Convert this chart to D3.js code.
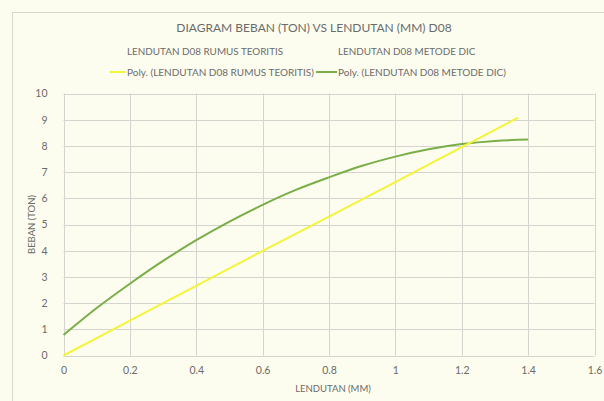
<!DOCTYPE html>
<html><head><meta charset="utf-8">
<script src="https://cdn.jsdelivr.net/npm/d3@7"></script>
<style>
html,body{margin:0;padding:0;background:#fdfdef;}
svg{display:block;}
text{font-family:Lato,"Open Sans",sans-serif;fill:#6b6b6b;}
</style></head><body>
<script>
// Data
const title = "DIAGRAM BEBAN (TON) VS LENDUTAN (MM) D08";
const xTitle = "LENDUTAN (MM)";
const yTitle = "BEBAN (TON)";
const seriesNames = ["LENDUTAN D08 RUMUS TEORITIS", "LENDUTAN D08 METODE DIC"];
const trendNames = ["Poly. (LENDUTAN D08 RUMUS TEORITIS)", "Poly. (LENDUTAN D08 METODE DIC)"];
const xTicks = [0, 0.2, 0.4, 0.6, 0.8, 1, 1.2, 1.4, 1.6];
const yTicks = [0,1,2,3,4,5,6,7,8,9,10];

const teoritisX = [0, 0.2, 0.4, 0.6, 0.8, 1.0, 1.2, 1.37];
const teoritisY = [0, 1.33, 2.66, 3.99, 5.30, 6.62, 7.95, 9.08];

const dicX = [0, 0.1, 0.2, 0.3, 0.4, 0.5, 0.6, 0.7, 0.8, 0.9, 1.0, 1.1, 1.2, 1.3, 1.4];
const dicY = [0.78, 1.81, 2.74, 3.61, 4.40, 5.11, 5.75, 6.32, 6.80, 7.24, 7.59, 7.87, 8.07, 8.19, 8.24];

const colors = ["#f4f43a", "#79ae48"];

const W = 604, H = 401;
const svg = d3.select("body").append("svg").attr("width", W).attr("height", H);

// chart border
svg.append("rect").attr("x", 12.5).attr("y", 12.5).attr("width", W).attr("height", H)
  .attr("fill", "#fdfdef").attr("stroke", "#d6d6cf").attr("stroke-width", 1);

const x = d3.scaleLinear().domain([0, 1.6]).range([63.5, 594.5]);
const y = d3.scaleLinear().domain([0, 10]).range([355.5, 93.5]);

// gridlines
svg.append("g").selectAll("line.h").data(yTicks).join("line")
  .attr("x1", x(0)).attr("x2", x(1.6)).attr("y1", d => Math.round(y(d)) + 0.5).attr("y2", d => Math.round(y(d)) + 0.5)
  .attr("stroke", "#d5d5cf").attr("stroke-width", 1);
svg.append("g").selectAll("line.v").data(xTicks).join("line")
  .attr("y1", y(0)).attr("y2", y(10)).attr("x1", d => Math.round(x(d)) + 0.5).attr("x2", d => Math.round(x(d)) + 0.5)
  .attr("stroke", "#d5d5cf").attr("stroke-width", 1);

// axes labels using d3 axes
const xAxis = svg.append("g").attr("transform", `translate(0,${y(0)})`)
  .call(d3.axisBottom(x).tickValues(xTicks).tickSize(0).tickPadding(11).tickFormat(d => d3.format("~g")(d)));
const yAxis = svg.append("g").attr("transform", `translate(${x(0)},0)`)
  .call(d3.axisLeft(y).tickValues(yTicks).tickSize(0).tickPadding(16));
[xAxis, yAxis].forEach(a => {
  a.select(".domain").remove();
  a.selectAll("text").style("font-family", "Lato, 'Open Sans', sans-serif").style("font-size", "10.5px").attr("fill", "#6e6e6e");
});

// lines
const line = d3.line().x(d => x(d[0])).y(d => y(d[1])).curve(d3.curveCatmullRom);
const tData = teoritisX.map((v, i) => [v, teoritisY[i]]);
const dData = dicX.map((v, i) => [v, dicY[i]]);
svg.append("path").datum(dData).attr("d", line).attr("fill", "none").attr("stroke", colors[1]).attr("stroke-width", 2);
svg.append("path").datum(tData).attr("d", line).attr("fill", "none").attr("stroke", colors[0]).attr("stroke-width", 2);

// title
svg.append("text").attr("x", 314).attr("y", 32).attr("text-anchor", "middle")
  .style("font-size", "12px").text(title);

// legend row 1
svg.append("text").attr("x", 127).attr("y", 55).style("font-size", "9.9px").text(seriesNames[0]);
svg.append("text").attr("x", 338).attr("y", 55).style("font-size", "9.9px").text(seriesNames[1]);
// legend row 2
svg.append("line").attr("x1", 110).attr("x2", 126).attr("y1", 72).attr("y2", 72).attr("stroke", colors[0]).attr("stroke-width", 2);
svg.append("text").attr("x", 127).attr("y", 75.5).style("font-size", "10px").text(trendNames[0]);
svg.append("line").attr("x1", 316).attr("x2", 337).attr("y1", 72).attr("y2", 72).attr("stroke", colors[1]).attr("stroke-width", 2);
svg.append("text").attr("x", 338).attr("y", 75.5).style("font-size", "10px").text(trendNames[1]);

// axis titles
svg.append("text").attr("x", 333).attr("y", 392).attr("text-anchor", "middle").style("font-size", "9.5px").text(xTitle);
svg.append("text").attr("transform", `translate(35,${y(5)}) rotate(-90)`).attr("text-anchor", "middle").style("font-size", "9.5px").text(yTitle);
</script>
</body></html>
